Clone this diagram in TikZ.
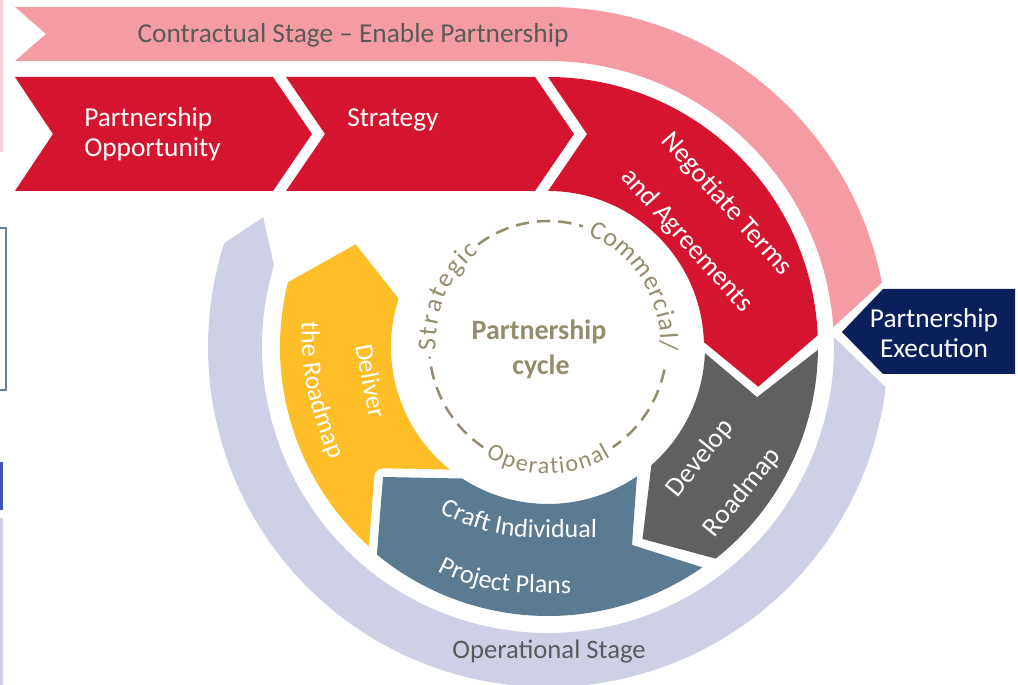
\documentclass[tikz,border=0pt]{standalone}
\usepackage{fontspec}
\setmainfont{Carlito}
\usetikzlibrary{decorations.text}

\definecolor{pinkband}{HTML}{F49BA4}
\definecolor{redband}{HTML}{D51530}
\definecolor{navyband}{HTML}{0A205C}
\definecolor{lavband}{HTML}{CED1E6}
\definecolor{yellowband}{HTML}{FEBE28}
\definecolor{blueband}{HTML}{5B7B93}
\definecolor{greyband}{HTML}{606060}
\definecolor{stagegrey}{HTML}{5A5A5A}
\definecolor{cycleolive}{HTML}{958C6E}
\definecolor{edgepink}{HTML}{F6D2D6}
\definecolor{edgeslate}{HTML}{6A8298}
\definecolor{edgeblue}{HTML}{3D52B8}

\newcommand\lblsize{\fontsize{20.5}{24}\selectfont}
\newcommand\widesize{\fontsize{20.5}{40.5}\selectfont}
\newcommand\bandsize{\fontsize{19.5}{23}\selectfont}
\newcommand\ringfont{\fontsize{19.5}{22}\selectfont\color{cycleolive}}
\newcommand\ringfontsmall{\fontsize{18}{20}\selectfont\color{cycleolive}}
\newcommand\bandtext{\bandsize\color{white}}

\tikzset{
  lbl/.style={text=white, font=\lblsize, inner sep=0pt},
  widelbl/.style={text=white, font=\widesize, inner sep=0pt, align=center},
  stagelbl/.style={text=stagegrey, font=\lblsize, inner sep=0pt},
  ringdash/.style={draw=cycleolive, line width=1.9pt, dash pattern=on 10pt off 6pt},
  ringtext/.style={decorate, decoration={text along path, text={#1},
      text align={fit to path}, raise=-5pt}},
  bandpath/.style={decorate, decoration={text along path, text={|\bandtext|#1},
      text align=left}},
}

\begin{document}
\begin{tikzpicture}[x=0.75pt, y=0.75pt]
\useasboundingbox (-548,-338) rectangle (470,347);

% slivers of neighbouring shapes along the left edge
\fill[edgepink] (-548,347) rectangle (-545,195);
\draw[edgeslate, line width=1.5pt] (-550,119) -- (-542,119) -- (-542,-43) -- (-550,-43);
\fill[edgeblue] (-548,-115) rectangle (-545,-163);
\fill[lavband] (-548,-171) rectangle (-545,-338);

% outer stage rings
\fill[pinkband] (-533,340) -- (0,340) arc[start angle=90, end angle=10.9, radius=340]
  -- (4:286) arc[start angle=4, end angle=90, radius=286] -- (-533,286) -- (-502,313) -- cycle;
\fill[lavband] (2:286) -- (-6.8:340) arc[start angle=-6.8, end angle=-197.8, radius=340]
  -- (155.5:313) -- (-196.6:286) arc[start angle=-196.6, end angle=2, radius=286] -- cycle;

% contractual chevrons
\fill[redband] (-533,270) -- (-275,270) -- (-236,213) -- (-275,156) -- (-533,156) -- (-495,213) -- cycle;
\fill[redband] (-262,270) -- (-13,270) -- (26,213) -- (-13,156) -- (-262,156) -- (-223,213) -- cycle;
\fill[redband] (0,270) arc[start angle=90, end angle=2.5, radius=270] -- (-10.7:214)
  -- (1.8:156) arc[start angle=1.8, end angle=90, radius=156] -- (39,213) -- cycle;

% operational segments
\fill[greyband] (-0.6:270) arc[start angle=-0.6, end angle=-51.6, radius=270] -- (-63.8:214)
  -- (-48.8:157) arc[start angle=-48.8, end angle=-2.2, radius=157] -- (-13.5:215) -- cycle;
\fill[yellowband] (166:268) arc[start angle=166, end angle=238, radius=268]
  -- (238:157) arc[start angle=238, end angle=162.1, radius=157] -- (151.9:218) -- cycle;
\draw[white, line width=13pt, line join=round] (-55:269) arc[start angle=-55, end angle=-129.5, radius=269]
  -- (-165,-130) -- (-123.1:157) arc[start angle=-123.1, end angle=-55.5, radius=157] -- (-67:215) -- cycle;
\fill[blueband] (-55:269) arc[start angle=-55, end angle=-129.5, radius=269]
  -- (-165,-130) -- (-123.1:157) arc[start angle=-123.1, end angle=-55.5, radius=157] -- (-67:215) -- cycle;

% execution tag
\fill[navyband] (335,58) -- (467,58) -- (467,-27) -- (335,-27) -- (294,15) -- cycle;

% dashed cycle ring with its labels
\draw[ringdash] (0,3) ++(126:119 and 123) arc[start angle=126, end angle=73, x radius=119, y radius=123];
\draw[ringdash] (0,3) ++(-12:119 and 123) arc[start angle=-12, end angle=-57, x radius=119, y radius=123];
\draw[ringdash] (0,3) ++(237:119 and 123) arc[start angle=237, end angle=186, x radius=119, y radius=123];
\path[ringtext={|\ringfont|Strategic}] (0,3) ++(183:119 and 123) arc[start angle=183, end angle=128, x radius=119, y radius=123];
\path[ringtext={|\ringfont|Commercial/}] (0,3) ++(69:119 and 123) arc[start angle=69, end angle=-3, x radius=119, y radius=123];
\path[ringtext={|\ringfontsmall|Operational}] (0,3) ++(240:119 and 123) arc[start angle=240, end angle=300, x radius=119, y radius=123];

\node[text=cycleolive, font=\bfseries\fontsize{21}{24}\selectfont, anchor=base, inner sep=0pt] (cyc1) at (-9,7) {Partnership};
\node[text=cycleolive, font=\bfseries\fontsize{21}{24}\selectfont, anchor=base, inner sep=0pt] (cyc2) at (-7,-28) {cycle};

% stage labels
\node[stagelbl, anchor=base] (contract) at (-195,304) {Contractual Stage – Enable Partnership};
\node[stagelbl, anchor=base, font=\fontsize{20}{24}\selectfont] (opstage) at (1,-311) {Operational Stage};

% step labels
\node[lbl, anchor=base west] (opp1) at (-464,220) {Partnership};
\node[lbl, anchor=base west] (opp2) at (-464,190) {Opportunity};
\node[lbl, anchor=base west] (strat) at (-201,220) {Strategy};
\node[widelbl, rotate=-48] (neg) at (158.5,124.5) {Negotiate Terms\\and Agreements};
\node[widelbl, rotate=51] (dev) at (173.5,-128.5) {Develop\\Roadmap};
\node[lbl, font=\bandsize, rotate=-79, anchor=base west] (del1) at (-193,1) {Deliver};
\path[bandpath=the Roadmap] (-246,25) to[out=-92, in=112] (-210,-132);
\path[bandpath=Craft Individual] (-108,-165) to[out=-30, in=178] (62,-191);
\path[bandpath=Project Plans] (-110,-224) to[out=-28, in=177] (45,-247);
\node[lbl, anchor=base] (exe1) at (386,19) {Partnership};
\node[lbl, anchor=base] (exe2) at (386,-11) {Execution};
\end{tikzpicture}
\end{document}
